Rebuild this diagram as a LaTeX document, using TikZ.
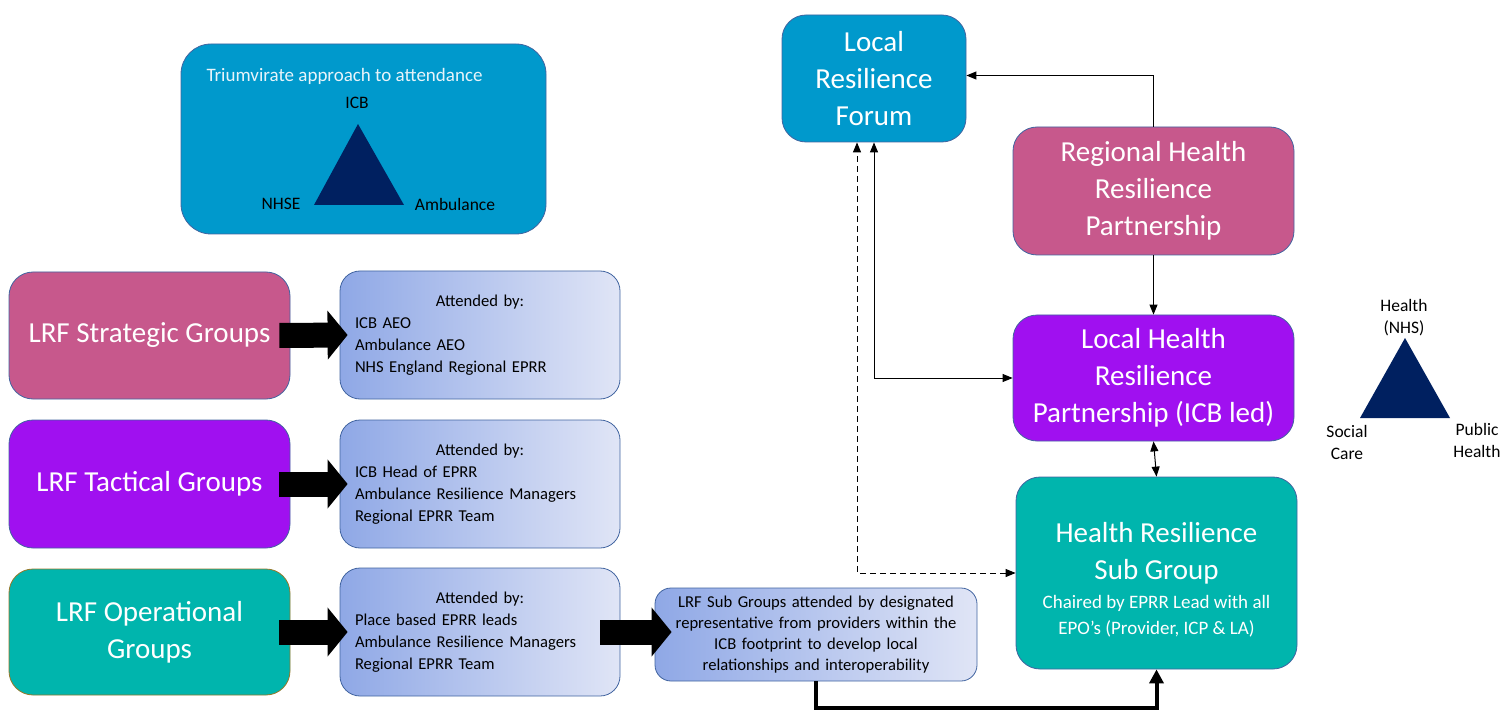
\documentclass[tikz,border=0pt]{standalone}
\usepackage{fontspec}
\setmainfont{Carlito}
\usetikzlibrary{arrows.meta}
\definecolor{lrfblue}{RGB}{0,153,204}
\definecolor{rhpink}{RGB}{199,88,140}
\definecolor{lhpurple}{RGB}{160,16,240}
\definecolor{hrteal}{RGB}{0,181,173}
\definecolor{navy}{RGB}{0,32,96}
\definecolor{edgeblue}{RGB}{65,100,160}
\definecolor{opedge}{RGB}{150,120,40}
\definecolor{attleft}{RGB}{143,168,230}
\definecolor{attright}{RGB}{224,229,246}
\definecolor{titlewhite}{RGB}{232,244,250}
\newcommand{\attended}[1]{\makebox[\linewidth]{Attended by:}\\#1}

\begin{document}
\begin{tikzpicture}[x=1pt,y=-1pt,
  group box/.style={draw=edgeblue,line width=0.8pt,rounded corners=24pt,text=white,align=center,
    font=\fontsize{29}{37}\selectfont,inner sep=4pt},
  attend box/.style={draw=edgeblue,line width=0.8pt,rounded corners=20pt,left color=attleft,right color=attright,
    minimum width=280pt,minimum height=128pt,text width=250pt,align=left,font=\fontsize{16.6}{22}\selectfont},
  block arrow/.style={line width=25pt,-{Triangle[length=20pt,width=48pt]}},
  link/.style={line width=1pt,-{Triangle[length=10pt,width=8pt]}},
  both link/.style={line width=1pt,{Triangle[length=10pt,width=8pt]}-{Triangle[length=10pt,width=8pt]}},
  tri label/.style={font=\fontsize{17.5}{22}\selectfont,align=center},
  ]
  \useasboundingbox (0,0) rectangle (1510,711);

  % triumvirate panel
  \node[draw=edgeblue,line width=0.8pt,fill=lrfblue,rounded corners=30pt,minimum width=365pt,minimum height=190pt] (triad) at (363.5,139) {};
  \node[anchor=west,text=titlewhite,font=\fontsize{19}{22}\selectfont] (triad-title) at (203,76) {Triumvirate approach to attendance};
  \fill[navy] (358,124) -- (404,205) -- (314,205) -- cycle;
  \node[tri label] (triad-icb) at (357,103) {ICB};
  \node[tri label] (triad-nhse) at (281,204) {NHSE};
  \node[tri label] (triad-amb) at (455,204) {Ambulance};

  % health partnerships
  \node[group box,fill=lrfblue,minimum width=184pt,minimum height=127pt] (lrf) at (874,78.5) {Local\\Resilience\\Forum};
  \node[group box,fill=rhpink,minimum width=281pt,minimum height=128pt] (rhrp) at (1153.5,191) {Regional Health\\Resilience\\Partnership};
  \node[group box,fill=lhpurple,minimum width=281pt,minimum height=126pt] (lhrp) at (1153.5,378) {Local Health\\Resilience\\Partnership (ICB led)};
  \node[group box,fill=hrteal,minimum width=281pt,minimum height=192pt] (hrsg) at (1156.5,573)
    {\rule{0pt}{39pt}Health Resilience\\Sub Group\\[-8pt]
     {\fontsize{19}{26}\selectfont\begin{tabular}[t]{@{}c@{}}Chaired by EPRR Lead with all\\EPO’s (Provider, ICP \& LA)\end{tabular}}};

  \fill[navy] (1405,338) -- (1450,418) -- (1360,418) -- cycle;
  \node[tri label] (tri-nhs) at (1404,318) {Health\\(NHS)};
  \node[tri label] (tri-social) at (1347,442) {Social\\Care};
  \node[tri label] (tri-public) at (1477,440) {Public\\Health};

  % LRF groups
  \node[group box,fill=rhpink,minimum width=281pt,minimum height=127pt] (lrf-strat) at (149.5,335.5) {LRF Strategic Groups};
  \node[group box,fill=lhpurple,minimum width=281pt,minimum height=128pt] (lrf-tact) at (149.5,484) {LRF Tactical Groups};
  \node[group box,draw=opedge,fill=hrteal,minimum width=281pt,minimum height=126pt] (lrf-oper) at (149.5,632) {LRF Operational\\Groups};

  \node[attend box] (att-strat) at (480,335) {\attended{ICB AEO\\Ambulance AEO\\NHS England Regional EPRR}};
  \node[attend box] (att-tact) at (480,484) {\attended{ICB Head of EPRR\\Ambulance Resilience Managers\\Regional EPRR Team}};
  \node[attend box] (att-oper) at (480,632) {\attended{Place based EPRR leads\\Ambulance Resilience Managers\\Regional EPRR Team}};
  \node[attend box,rounded corners=16pt,minimum width=322pt,minimum height=93pt,text width=310pt,align=center,
    font=\fontsize{16.6}{21}\selectfont] (subgroups) at (816,634.5)
    {LRF Sub Groups attended by designated\\representative from providers within the\\ICB footprint to develop local\\relationships and interoperability};

  % block arrows
  \draw[block arrow] ([xshift=-11pt]lrf-strat.east) -- ([xshift=8pt]att-strat.west);
  \draw[block arrow] ([xshift=-11pt]lrf-tact.east) -- ([xshift=8pt]att-tact.west);
  \draw[block arrow] ([xshift=-11pt]lrf-oper.east) -- ([xshift=8pt]att-oper.west);
  \draw[block arrow] ([xshift=-20pt]att-oper.east) -- ([xshift=17pt]subgroups.west |- att-oper.east);

  % connectors
  \draw[line width=4pt,-{Triangle[length=14pt,width=14pt]}] (subgroups.south) -- ++(0,27) -| (hrsg.south);
  \draw[link] (rhrp.north) |- ([yshift=3pt]lrf.east);
  \draw[link] (rhrp.south) -- (lhrp.north);
  \draw[both link] (lhrp.south) -- (hrsg.north);
  \draw[both link] (lhrp.west) -| (lrf.south);
  \draw[both link,dash pattern=on 6pt off 4pt] (hrsg.west) -| ([xshift=-17pt]lrf.south);
\end{tikzpicture}
\end{document}
